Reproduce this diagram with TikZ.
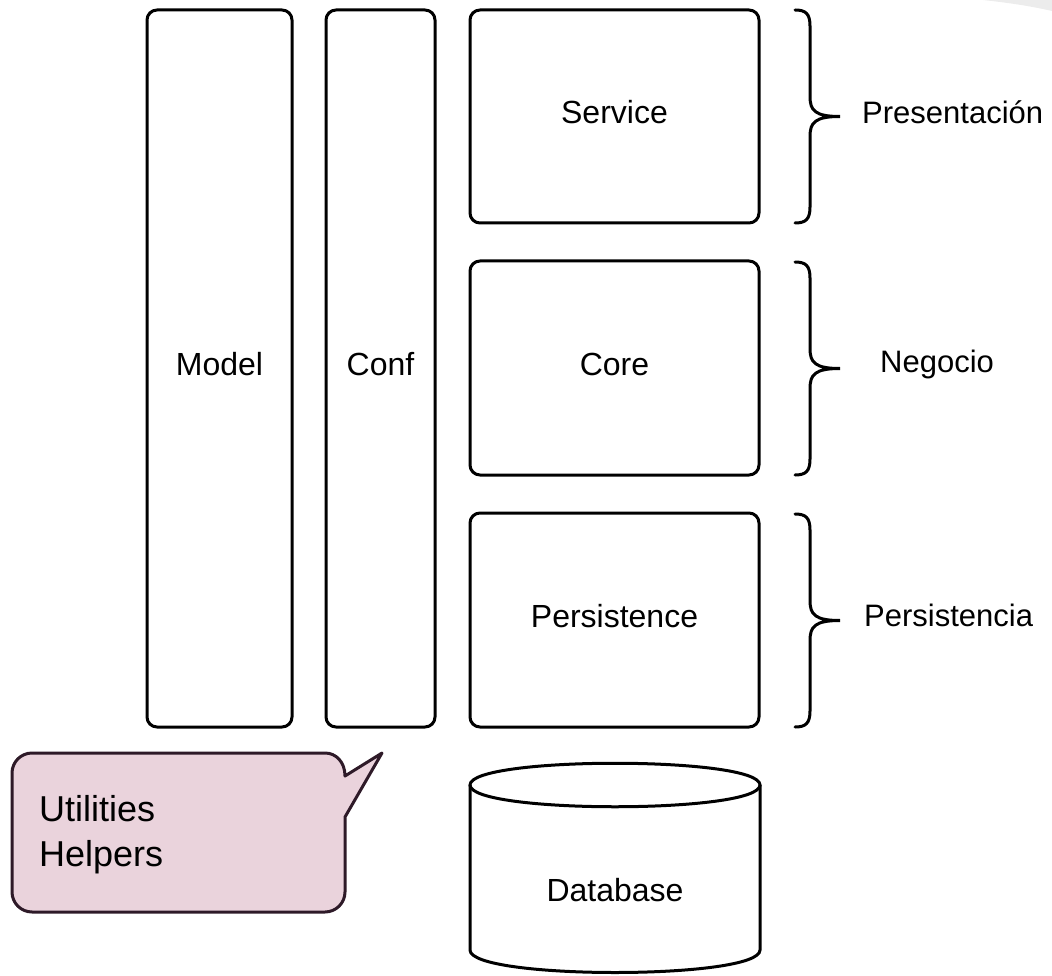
\documentclass[tikz,border=0pt]{standalone}
\usepackage{fontspec}
\setmainfont{Liberation Sans}
\definecolor{calloutfill}{HTML}{EAD3DC}
\definecolor{calloutline}{HTML}{2E1A28}
\definecolor{curl}{HTML}{ECECEC}
\begin{document}
\begin{tikzpicture}[x=1pt,y=-1pt,
  box/.style={draw=black, line width=3pt, rounded corners=10pt, inner sep=0pt,
    font=\fontsize{32}{38}\selectfont, text height=23pt, text depth=9pt},
  lbl/.style={font=\fontsize{31}{37}\selectfont, inner sep=0pt},
  bracepath/.style={draw=black, line width=3pt, line cap=round},
  callout/.style={draw=calloutline, fill=calloutfill, line width=3pt, line join=round}]
\useasboundingbox (0,0) rectangle (1052,976);
\fill[curl] (983,0) .. controls (1010,3) and (1030,6) .. (1052,11) -- (1052,0) -- cycle;

% tall boxes
\node[box, minimum width=145pt, minimum height=717pt] (model) at (219.5,368.5) {Model};
\node[box, minimum width=109pt, minimum height=717pt] (conf) at (380.5,368.5) {Conf};
% layer boxes
\node[box, minimum width=289pt, minimum height=213pt] (service) at (614.5,116.5) {Service};
\node[box, minimum width=289pt, minimum height=214pt] (core) at (614.5,368) {Core};
\node[box, minimum width=289pt, minimum height=214pt] (persist) at (614.5,620) {Persistence};

% database cylinder
\draw[line width=3pt, fill=white] (470,785) -- (470,950)
  .. controls (470,980) and (760,980) .. (760,950) -- (760,785);
\draw[line width=3pt] (470,785) .. controls (470,756) and (760,756) .. (760,785)
  .. controls (760,814) and (470,814) .. (470,785) -- cycle;
\node[box, draw=none] (db) at (615,894) {Database};

% braces
\foreach \t/\b/\n in {10/223/p, 262/475/n, 514/727/s}{
  \pgfmathsetmacro{\m}{(\t+\b)/2}
  \coordinate (top\n) at (795,\t);
  \coordinate (bot\n) at (795,\b);
  \coordinate (tip\n) at (840,\m);
  \draw[bracepath] (top\n) .. controls (806,\t) and (810,\t+4) .. (810,\t+16)
    -- (810,\m-20) .. controls (810,\m-6) and (815,\m) .. (tip\n)
    .. controls (815,\m) and (810,\m+6) .. (810,\m+20)
    -- (810,\b-16) .. controls (810,\b-4) and (806,\b) .. (bot\n);
}
\node[lbl, anchor=west] (lp) at (862,112) {Presentación};
\node[lbl, anchor=west] (ln) at (880,364) {Negocio};
\node[lbl, anchor=west] (ls) at (864,615) {Persistencia};

% callout
\draw[callout] (32,753) -- (325,753) .. controls (336,753) and (345,762) .. (345,776)
  -- (382,753) -- (345,817) -- (345,892) .. controls (345,903) and (336,912) .. (325,912)
  -- (32,912) .. controls (21,912) and (12,903) .. (12,892)
  -- (12,773) .. controls (12,762) and (21,753) .. (32,753) -- cycle;
\node[anchor=north west, align=left, inner sep=0pt,
  font=\fontsize{36}{45}\selectfont] (util) at (39,795) {Utilities\\Helpers};
\end{tikzpicture}
\end{document}
